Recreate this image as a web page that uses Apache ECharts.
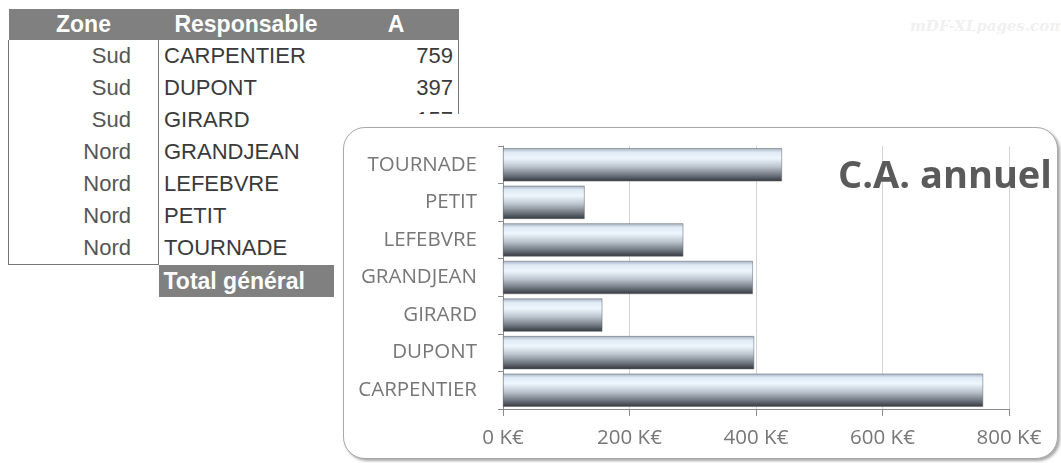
<!DOCTYPE html>
<html>
<head>
<meta charset="utf-8">
<script src="https://cdn.jsdelivr.net/npm/echarts@6/dist/echarts.min.js"></script>
<style>
  html, body { margin: 0; padding: 0; background: #fff; }
  #page { position: relative; width: 1061px; height: 463px; overflow: hidden; background: #fff; }
  #table { position: absolute; left: 8px; top: 9px; border-collapse: collapse; table-layout: fixed;
           font-family: "Liberation Sans", Arial, sans-serif; font-size: 22px; color: #3a3a3a; }
  #table td, #table th { padding: 0 5px; height: 32px; line-height: 32px; white-space: nowrap; overflow: hidden; }
  #table th { background: #808080; color: #fff; font-weight: bold; font-size: 23px; height: 31px; line-height: 31px; }
  #watermark { position: absolute; left: 910px; top: 17px; font-family: "DejaVu Serif", serif; white-space: nowrap;
               font-style: italic; font-weight: bold; font-size: 15px; color: #f0f0f0; }
  #cover { position: absolute; left: 336px; top: 114px; width: 725px; height: 349px; background: #fff; }
  #box { position: absolute; left: 343px; top: 127px; width: 713px; height: 330px;
         border: 1.5px solid #a9a9a9; border-radius: 22px; background: #fff;
         box-shadow: 2px 2px 3px rgba(0,0,0,0.35); overflow: hidden; }
  #canvas { width: 713px; height: 330px; }
</style>
</head>
<body>
<div id="page">
  <table id="table"></table>
  <div id="watermark">mDF-XLpages.com</div>
  <div id="cover"></div>
  <div id="box"><div id="canvas"></div></div>
</div>
<script>
var zones = ['Sud', 'Sud', 'Sud', 'Nord', 'Nord', 'Nord', 'Nord'];
var responsables = ['CARPENTIER', 'DUPONT', 'GIRARD', 'GRANDJEAN', 'LEFEBVRE', 'PETIT', 'TOURNADE'];
var caAnnuel = [759, 397, 157, 395, 285, 129, 441];
var xTicks = [0, 200, 400, 600, 800];

// tableau croisé (derrière le graphique)
var html = '<colgroup><col style="width:150px"><col style="width:175px"><col style="width:125px"></colgroup>' +
           '<tr><th style="text-align:center">Zone</th>' +
           '<th style="text-align:center">Responsable</th>' +
           '<th style="text-align:center">A</th></tr>';
for (var i = 0; i < responsables.length; i++) {
    var last = i === responsables.length - 1 ? 'border-bottom:1.5px solid #777;' : '';
    html += '<tr><td style="text-align:right;padding-right:27px;color:#555;border-left:1.5px solid #777;border-right:1.5px solid #777;' + last + '">' + zones[i] + '</td>' +
            '<td style="text-align:left">' + responsables[i] + '</td>' +
            '<td style="text-align:right;border-right:1.5px solid #777">' + caAnnuel[i] + '</td></tr>';
}
html += '<tr><td></td><td style="background:#808080;color:#fff;font-weight:bold;font-size:23px">Total général</td><td></td></tr>';
document.getElementById('table').innerHTML = html;

var myChart = echarts.init(document.getElementById('canvas'));
var option = {
    animation: false,
    title: {
        text: 'C.A. annuel',
        left: 489,
        top: 25,
        textStyle: {
            fontFamily: 'Open Sans',
            fontSize: 38,
            fontWeight: 'bold',
            color: '#5a5a5a'
        }
    },
    grid: {
        left: 159,
        right: 48,
        top: 18,
        bottom: 49
    },
    xAxis: {
        type: 'value',
        min: xTicks[0],
        max: xTicks[xTicks.length - 1],
        interval: xTicks[1] - xTicks[0],
        axisLine: { show: true, lineStyle: { color: '#8c8c8c', width: 1 } },
        axisTick: { show: true, length: 7, lineStyle: { color: '#8c8c8c' } },
        splitLine: { show: true, lineStyle: { color: '#d4d4d4', type: 'solid' } },
        axisLabel: {
            margin: 19,
            formatter: '{value} K€',
            fontFamily: 'Open Sans',
            fontSize: 20.5,
            color: '#777'
        }
    },
    yAxis: {
        type: 'category',
        data: responsables,
        axisLine: { show: true, lineStyle: { color: '#8c8c8c', width: 1 } },
        axisTick: { show: true, length: 5, lineStyle: { color: '#8c8c8c' } },
        axisLabel: {
            margin: 26,
            fontFamily: 'Open Sans',
            fontSize: 20.5,
            color: '#777'
        }
    },
    series: [{
        name: 'C.A. annuel',
        type: 'bar',
        data: caAnnuel,
        barCategoryGap: '12%',
        itemStyle: {
            borderColor: '#5d636b',
            borderWidth: 0.5,
            color: new echarts.graphic.LinearGradient(0, 0, 0, 1, [
                { offset: 0, color: '#a3b0be' },
                { offset: 0.12, color: '#dfeaf6' },
                { offset: 0.3, color: '#eef6fd' },
                { offset: 0.55, color: '#bcc5cf' },
                { offset: 0.8, color: '#737a83' },
                { offset: 1, color: '#34383e' }
            ])
        }
    }]
};
myChart.setOption(option);
</script>
</body>
</html>
